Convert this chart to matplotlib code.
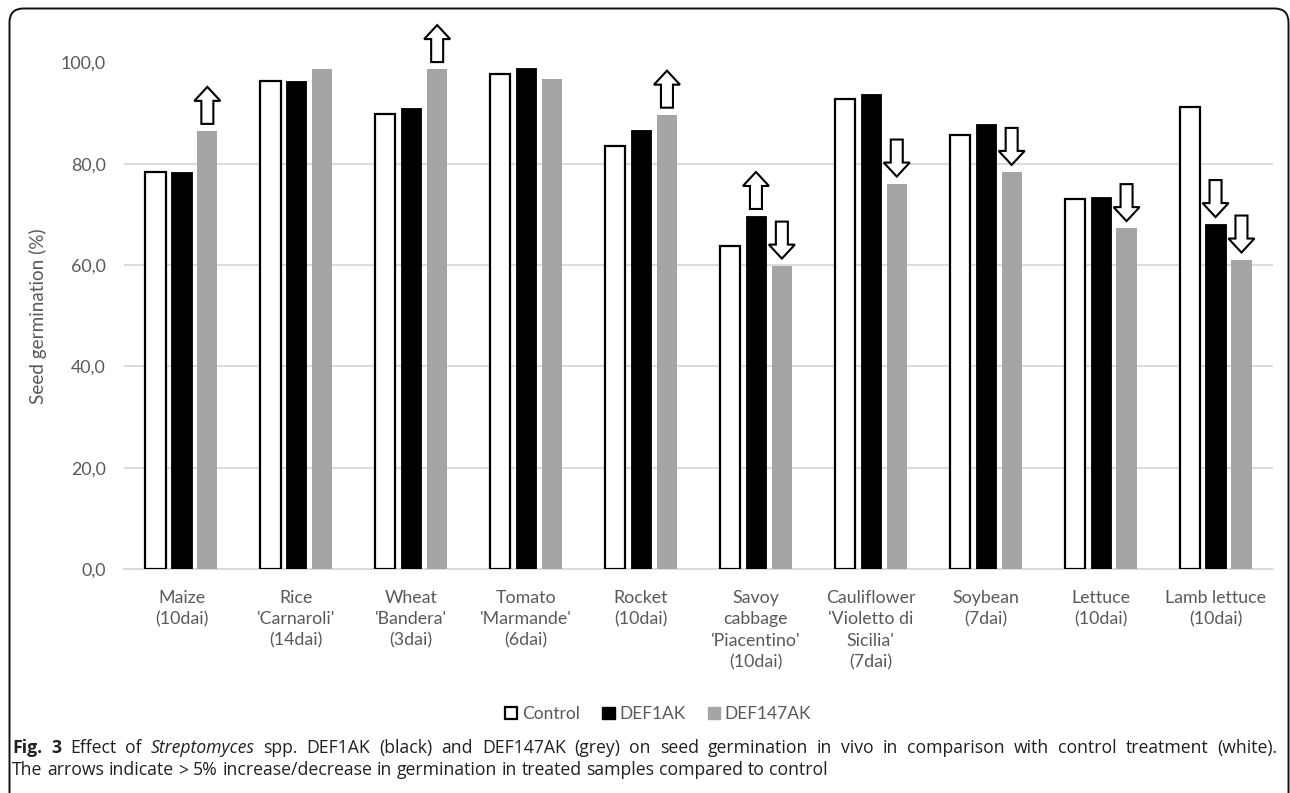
import matplotlib
matplotlib.use("Agg")
import matplotlib.pyplot as plt
import matplotlib.transforms as mtransforms
from matplotlib.patches import Polygon, FancyBboxPatch, Patch
import numpy as np

# ---- data -------------------------------------------------------------
categories = [
    "Maize\n(10dai)",
    "Rice\n'Carnaroli'\n(14dai)",
    "Wheat\n'Bandera'\n(3dai)",
    "Tomato\n'Marmande'\n(6dai)",
    "Rocket\n(10dai)",
    "Savoy\ncabbage\n'Piacentino'\n(10dai)",
    "Cauliflower\n'Violetto di\nSicilia'\n(7dai)",
    "Soybean\n(7dai)",
    "Lettuce\n(10dai)",
    "Lamb lettuce\n(10dai)",
]
control = [78.4, 96.4, 89.8, 97.7, 83.6, 63.7, 92.8, 85.6, 73.0, 91.3]
def1ak = [78.3, 96.3, 91.0, 98.9, 86.7, 69.7, 93.7, 87.8, 73.4, 68.1]
def147ak = [86.5, 98.7, 98.7, 96.7, 89.7, 59.9, 76.1, 78.4, 67.3, 61.1]
series_names = ["Control", "DEF1AK", "DEF147AK"]
yticks = [0, 20, 40, 60, 80, 100]
ytick_labels = ["0,0", "20,0", "40,0", "60,0", "80,0", "100,0"]
threshold_pct = 5.0  # arrows mark a change larger than this vs. control

# ---- styling ----------------------------------------------------------
W, H = 1290, 793
DPI = 100
label_font = "Lato"
caption_font = "Open Sans"
text_grey = "#595959"
grid_grey = "#d9d9d9"
bar_grey = "#a5a5a5"

fig = plt.figure(figsize=(W / DPI, H / DPI), dpi=DPI)
fig.patch.set_facecolor("white")

# plot area in pixels (left, top, right, bottom measured from top-left)
pl, pt, pr, pb = 124, 62.5, 1273, 569
ax = fig.add_axes([pl / W, 1 - pb / H, (pr - pl) / W, (pb - pt) / H])

x = np.arange(len(categories))
step = 0.2255
width = 0.176
values = [control, def1ak, def147ak]
styles = [
    dict(facecolor="white", edgecolor="black", linewidth=1.6),
    dict(facecolor="black", edgecolor="black", linewidth=0.6),
    dict(facecolor=bar_grey, edgecolor=bar_grey, linewidth=0.0),
]
for i, (vals, st) in enumerate(zip(values, styles)):
    ax.bar(x + (i - 1) * step, vals, width=width, zorder=3, **st)

ax.set_xlim(-0.5, len(categories) - 0.5)
ax.set_ylim(0, 100)
ax.set_yticks(yticks)
ax.set_yticklabels(ytick_labels)
ax.set_xticks(x)
ax.set_xticklabels(categories, linespacing=1.42)
ax.yaxis.grid(True, color=grid_grey, linewidth=1.3, zorder=0)
ax.set_axisbelow(True)
for s in ["top", "right", "left"]:
    ax.spines[s].set_visible(False)
ax.spines["bottom"].set_color(grid_grey)
ax.spines["bottom"].set_linewidth(1.3)
ax.spines["bottom"].set_zorder(1)
ax.tick_params(axis="both", length=0, colors=text_grey)
ax.tick_params(axis="y", pad=13)
ax.tick_params(axis="x", pad=15)
for lab in ax.get_xticklabels() + ax.get_yticklabels():
    lab.set_fontfamily(label_font)
    lab.set_fontsize(12.8)
    lab.set_color(text_grey)
for lab in ax.get_xticklabels():
    lab.set_verticalalignment("top")

fig.text(38 / W, 1 - 316 / H, "Seed germination (%)", rotation=90,
         ha="center", va="center", fontsize=13.6, family=label_font,
         color=text_grey)

# ---- block arrows for changes beyond the threshold --------------------
sw, hw, ah, hh, gap = 6, 13, 37, 14, 7  # pixel sizes


def block_arrow(xd, yd, up):
    if up:
        pts = [(-sw, gap), (sw, gap), (sw, gap + ah - hh), (hw, gap + ah - hh),
               (0, gap + ah), (-hw, gap + ah - hh), (-sw, gap + ah - hh)]
    else:
        pts = [(0, gap), (hw, gap + hh), (sw, gap + hh), (sw, gap + ah),
               (-sw, gap + ah), (-sw, gap + hh), (-hw, gap + hh)]
    pts = [(px / DPI, py / DPI) for px, py in pts]
    tr = fig.dpi_scale_trans + mtransforms.ScaledTranslation(xd, yd, ax.transData)
    poly = Polygon(pts, closed=True, facecolor="white", edgecolor="black",
                   linewidth=1.5, transform=tr, clip_on=False, zorder=5,
                   joinstyle="miter")
    ax.add_patch(poly)


for i, vals in enumerate([def1ak, def147ak], start=1):
    for k, (c, v) in enumerate(zip(control, vals)):
        change = (v - c) / c * 100
        if abs(change) > threshold_pct:
            block_arrow(x[k] + (i - 1) * step, v, change > 0)

# ---- legend -------------------------------------------------------------
handles = [Patch(**styles[0]), Patch(facecolor="black", edgecolor="black"),
           Patch(facecolor=bar_grey, edgecolor=bar_grey)]
leg = fig.legend(handles, series_names, loc="center", ncol=3,
                 bbox_to_anchor=(658 / W, 1 - 714 / H), frameon=False,
                 handlelength=0.72, handleheight=0.72, handletextpad=0.25,
                 columnspacing=1.3, prop=dict(family=label_font, size=12.5))
for t in leg.get_texts():
    t.set_color(text_grey)

# ---- caption ------------------------------------------------------------
renderer = fig.canvas.get_renderer()
cap_color = "#231f20"
cap_size = 12.7
ident = mtransforms.IdentityTransform()


def word_list(parts):
    words = []
    for txt, kw in parts:
        for w in txt.split():
            words.append((w, kw))
    return words


def natural_space():
    a = fig.text(0, 0, "a a", transform=ident, fontsize=cap_size,
                 family=caption_font)
    b = fig.text(0, 0, "aa", transform=ident, fontsize=cap_size,
                 family=caption_font)
    w = a.get_window_extent(renderer).width - b.get_window_extent(renderer).width
    a.remove()
    b.remove()
    return w


def place_line(parts, x0, y_base, x1=None):
    words = word_list(parts)
    texts = []
    for w, kw in words:
        t = fig.text(0, 0, w, transform=ident, ha="left", va="baseline",
                     fontsize=cap_size, family=caption_font, color=cap_color,
                     **kw)
        texts.append(t)
    widths = [t.get_window_extent(renderer).width for t in texts]
    sp_w = natural_space()
    if x1 is not None and len(texts) > 1:
        sp_w = (x1 - x0 - sum(widths)) / (len(texts) - 1)
    cx = x0
    for t, w in zip(texts, widths):
        t.set_position((cx, H - y_base))
        cx += w + sp_w


line1 = [
    ("Fig. 3", dict(weight="bold")),
    ("Effect of", {}),
    ("Streptomyces", dict(style="italic")),
    ("spp. DEF1AK (black) and DEF147AK (grey) on seed germination in vivo "
     "in comparison with control treatment (white).", {}),
]
line2 = [("The arrows indicate > 5% increase/decrease in germination in "
          "treated samples compared to control", {})]
place_line(line1, 12, 753, x1=1277)
place_line(line2, 12, 775)

# ---- rounded frame ------------------------------------------------------
frame = FancyBboxPatch((9.5, -40), 1288.5 - 9.5, (H - 8.5) + 40,
                       boxstyle="round,pad=0,rounding_size=14",
                       transform=ident, facecolor="none", edgecolor="#111111",
                       linewidth=1.4, zorder=10)
fig.patches.append(frame)

fig.savefig("out.png", dpi=DPI, facecolor="white")
